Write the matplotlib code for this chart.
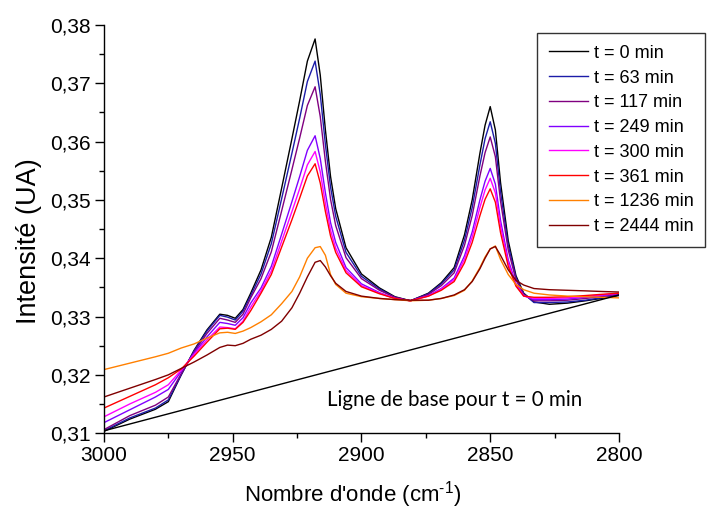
import matplotlib
matplotlib.use("Agg")
import matplotlib.pyplot as plt
from matplotlib.ticker import MultipleLocator, FuncFormatter

plt.rcParams.update({
    "font.family": ["Liberation Sans", "DejaVu Sans"],
    "mathtext.fontset": "custom",
    "mathtext.rm": "Liberation Sans",
    "axes.linewidth": 1.0,
})

# wavenumbers (cm-1), common to all spectra
wn = [3000, 2990, 2980, 2975, 2970, 2965, 2960, 2955, 2952, 2949,
      2946, 2943, 2939, 2935, 2931, 2927, 2924, 2921, 2918, 2916,
      2914, 2912, 2910, 2906, 2900, 2893, 2887, 2881, 2874, 2869,
      2864, 2860, 2857, 2854, 2852, 2850, 2848, 2846, 2843, 2840,
      2837, 2833, 2827, 2820, 2813, 2807, 2800]

t0 = [0.3103, 0.3124, 0.3141, 0.3154, 0.3200, 0.3242, 0.3277, 0.3304, 0.3302, 0.3297,
      0.3312, 0.3340, 0.3380, 0.3436, 0.3520, 0.3605, 0.3670, 0.3738, 0.3776, 0.3714,
      0.3620, 0.3540, 0.3485, 0.3418, 0.3373, 0.3349, 0.3334, 0.3327, 0.3340, 0.3358,
      0.3384, 0.3440, 0.3500, 0.3580, 0.3628, 0.3660, 0.3620, 0.3530, 0.3430, 0.3370,
      0.3340, 0.3325, 0.3321, 0.3323, 0.3327, 0.3331, 0.3336]
t63 = [0.3104, 0.3126, 0.3143, 0.3157, 0.3200, 0.3241, 0.3275, 0.3302, 0.3299, 0.3294,
       0.3309, 0.3336, 0.3373, 0.3425, 0.3502, 0.3580, 0.3640, 0.3703, 0.3738, 0.3681,
       0.3595, 0.3522, 0.3472, 0.3410, 0.3369, 0.3347, 0.3333, 0.3327, 0.3339, 0.3356,
       0.3380, 0.3431, 0.3487, 0.3560, 0.3605, 0.3634, 0.3597, 0.3514, 0.3422, 0.3367,
       0.3339, 0.3324, 0.3324, 0.3325, 0.3328, 0.3332, 0.3337]
t117 = [0.3106, 0.3130, 0.3148, 0.3162, 0.3202, 0.3239, 0.3271, 0.3297, 0.3294, 0.3290,
        0.3304, 0.3332, 0.3365, 0.3411, 0.3481, 0.3552, 0.3606, 0.3662, 0.3694, 0.3643,
        0.3566, 0.3501, 0.3456, 0.3401, 0.3365, 0.3345, 0.3333, 0.3327, 0.3338, 0.3353,
        0.3375, 0.3422, 0.3473, 0.3541, 0.3581, 0.3608, 0.3574, 0.3498, 0.3414, 0.3363,
        0.3338, 0.3327, 0.3327, 0.3328, 0.3331, 0.3334, 0.3338]
t249 = [0.3118, 0.3140, 0.3162, 0.3175, 0.3206, 0.3237, 0.3265, 0.3290, 0.3288, 0.3285,
        0.3298, 0.3323, 0.3349, 0.3386, 0.3441, 0.3497, 0.3540, 0.3585, 0.3610, 0.3571,
        0.3512, 0.3461, 0.3427, 0.3384, 0.3356, 0.3341, 0.3331, 0.3327, 0.3336, 0.3348,
        0.3366, 0.3404, 0.3445, 0.3500, 0.3532, 0.3554, 0.3527, 0.3465, 0.3397, 0.3356,
        0.3336, 0.3329, 0.3329, 0.3330, 0.3333, 0.3336, 0.3339]
t300 = [0.3128, 0.3150, 0.3170, 0.3183, 0.3208, 0.3235, 0.3260, 0.3282, 0.3281, 0.3279,
        0.3292, 0.3316, 0.3344, 0.3378, 0.3429, 0.3480, 0.3519, 0.3560, 0.3583, 0.3548,
        0.3494, 0.3448, 0.3417, 0.3379, 0.3353, 0.3340, 0.3331, 0.3327, 0.3335, 0.3347,
        0.3363, 0.3398, 0.3436, 0.3487, 0.3517, 0.3537, 0.3512, 0.3455, 0.3392, 0.3354,
        0.3335, 0.3331, 0.3331, 0.3332, 0.3334, 0.3337, 0.3340]
t361 = [0.3143, 0.3163, 0.3183, 0.3195, 0.3210, 0.3232, 0.3256, 0.3279, 0.3280, 0.3278,
        0.3290, 0.3310, 0.3340, 0.3372, 0.3419, 0.3466, 0.3503, 0.3541, 0.3562, 0.3529,
        0.3480, 0.3438, 0.3410, 0.3375, 0.3351, 0.3339, 0.3331, 0.3327, 0.3335, 0.3345,
        0.3360, 0.3392, 0.3427, 0.3473, 0.3501, 0.3519, 0.3496, 0.3444, 0.3386, 0.3352,
        0.3335, 0.3333, 0.3333, 0.3334, 0.3336, 0.3338, 0.3340]
t1236 = [0.3209, 0.3220, 0.3231, 0.3237, 0.3246, 0.3253, 0.3263, 0.3272, 0.3273, 0.3271,
         0.3275, 0.3281, 0.3291, 0.3303, 0.3322, 0.3343, 0.3368, 0.3400, 0.3418, 0.3420,
         0.3405, 0.3372, 0.3355, 0.3340, 0.3334, 0.3331, 0.3329, 0.3327, 0.3328, 0.3331,
         0.3336, 0.3345, 0.3361, 0.3384, 0.3402, 0.3416, 0.3421, 0.3398, 0.3372, 0.3355,
         0.3346, 0.3340, 0.3337, 0.3335, 0.3334, 0.3333, 0.3332]
t2444 = [0.3162, 0.3177, 0.3192, 0.3200, 0.3211, 0.3222, 0.3234, 0.3247, 0.3251, 0.3250,
         0.3254, 0.3261, 0.3268, 0.3278, 0.3292, 0.3315, 0.3340, 0.3368, 0.3393, 0.3396,
         0.3385, 0.3370, 0.3357, 0.3343, 0.3335, 0.3331, 0.3329, 0.3328, 0.3328, 0.3331,
         0.3337, 0.3346, 0.3360, 0.3382, 0.3400, 0.3416, 0.3420, 0.3405, 0.3380, 0.3362,
         0.3354, 0.3348, 0.3346, 0.3345, 0.3344, 0.3343, 0.3342]

spectra = [t0, t63, t117, t249, t300, t361, t1236, t2444]
labels = ["t = 0 min", "t = 63 min", "t = 117 min", "t = 249 min",
          "t = 300 min", "t = 361 min", "t = 1236 min", "t = 2444 min"]
colors = ["#000000", "#1c1ca8", "#800080", "#8000ff",
          "#ff00ff", "#ff0000", "#ff8000", "#800000"]

# baseline for t = 0 (end points)
base_x = [3000, 2800]
base_y = [0.3104, 0.3337]

fig = plt.figure(figsize=(7.07, 5.2), dpi=100, facecolor="white")
ax = fig.add_axes([0.147, 0.167, 0.7285, 0.785])

handles = []
for y, lab, c in zip(spectra, labels, colors):
    h, = ax.plot(wn, y, color=c, lw=1.0, label=lab)
    handles.append(h)
ax.plot(base_x, base_y, color="black", lw=1.0)

ax.text(2913.5, 0.3157, "Ligne de base pour t = 0 min", family="Lato",
        fontsize=14.8, va="center", ha="left")

ax.set_xlim(3000, 2800)
ax.set_ylim(0.31, 0.38)
ax.spines["top"].set_visible(False)
ax.spines["right"].set_visible(False)
ax.xaxis.set_major_locator(MultipleLocator(50))
ax.xaxis.set_minor_locator(MultipleLocator(25))
ax.yaxis.set_major_locator(MultipleLocator(0.01))
ax.yaxis.set_minor_locator(MultipleLocator(0.005))
ax.yaxis.set_major_formatter(FuncFormatter(lambda v, p: f"{v:.2f}".replace(".", ",")))
ax.tick_params(which="major", direction="out", length=6.5, width=1.0,
               labelsize=15, pad=3)
ax.tick_params(which="minor", direction="out", length=3.5, width=1.0)

ax.set_xlabel(r"Nombre d'onde (cm$^{\text{-1}}$)", fontsize=16)
ax.xaxis.set_label_coords(0.482, -0.112)
ax.set_ylabel("Intensité (UA)", fontsize=19.5)
ax.yaxis.set_label_coords(-0.12, 0.47)

leg = fig.legend(handles=handles, loc="upper left",
                 bbox_to_anchor=(0.7595, 0.9365), fontsize=13,
                 frameon=True, fancybox=False, edgecolor="black",
                 handlelength=2.2, handletextpad=0.3, labelspacing=0.43,
                 borderpad=0.65, borderaxespad=0)
leg.get_frame().set_linewidth(1.0)

fig.savefig("out.png", dpi=100, facecolor="white")
